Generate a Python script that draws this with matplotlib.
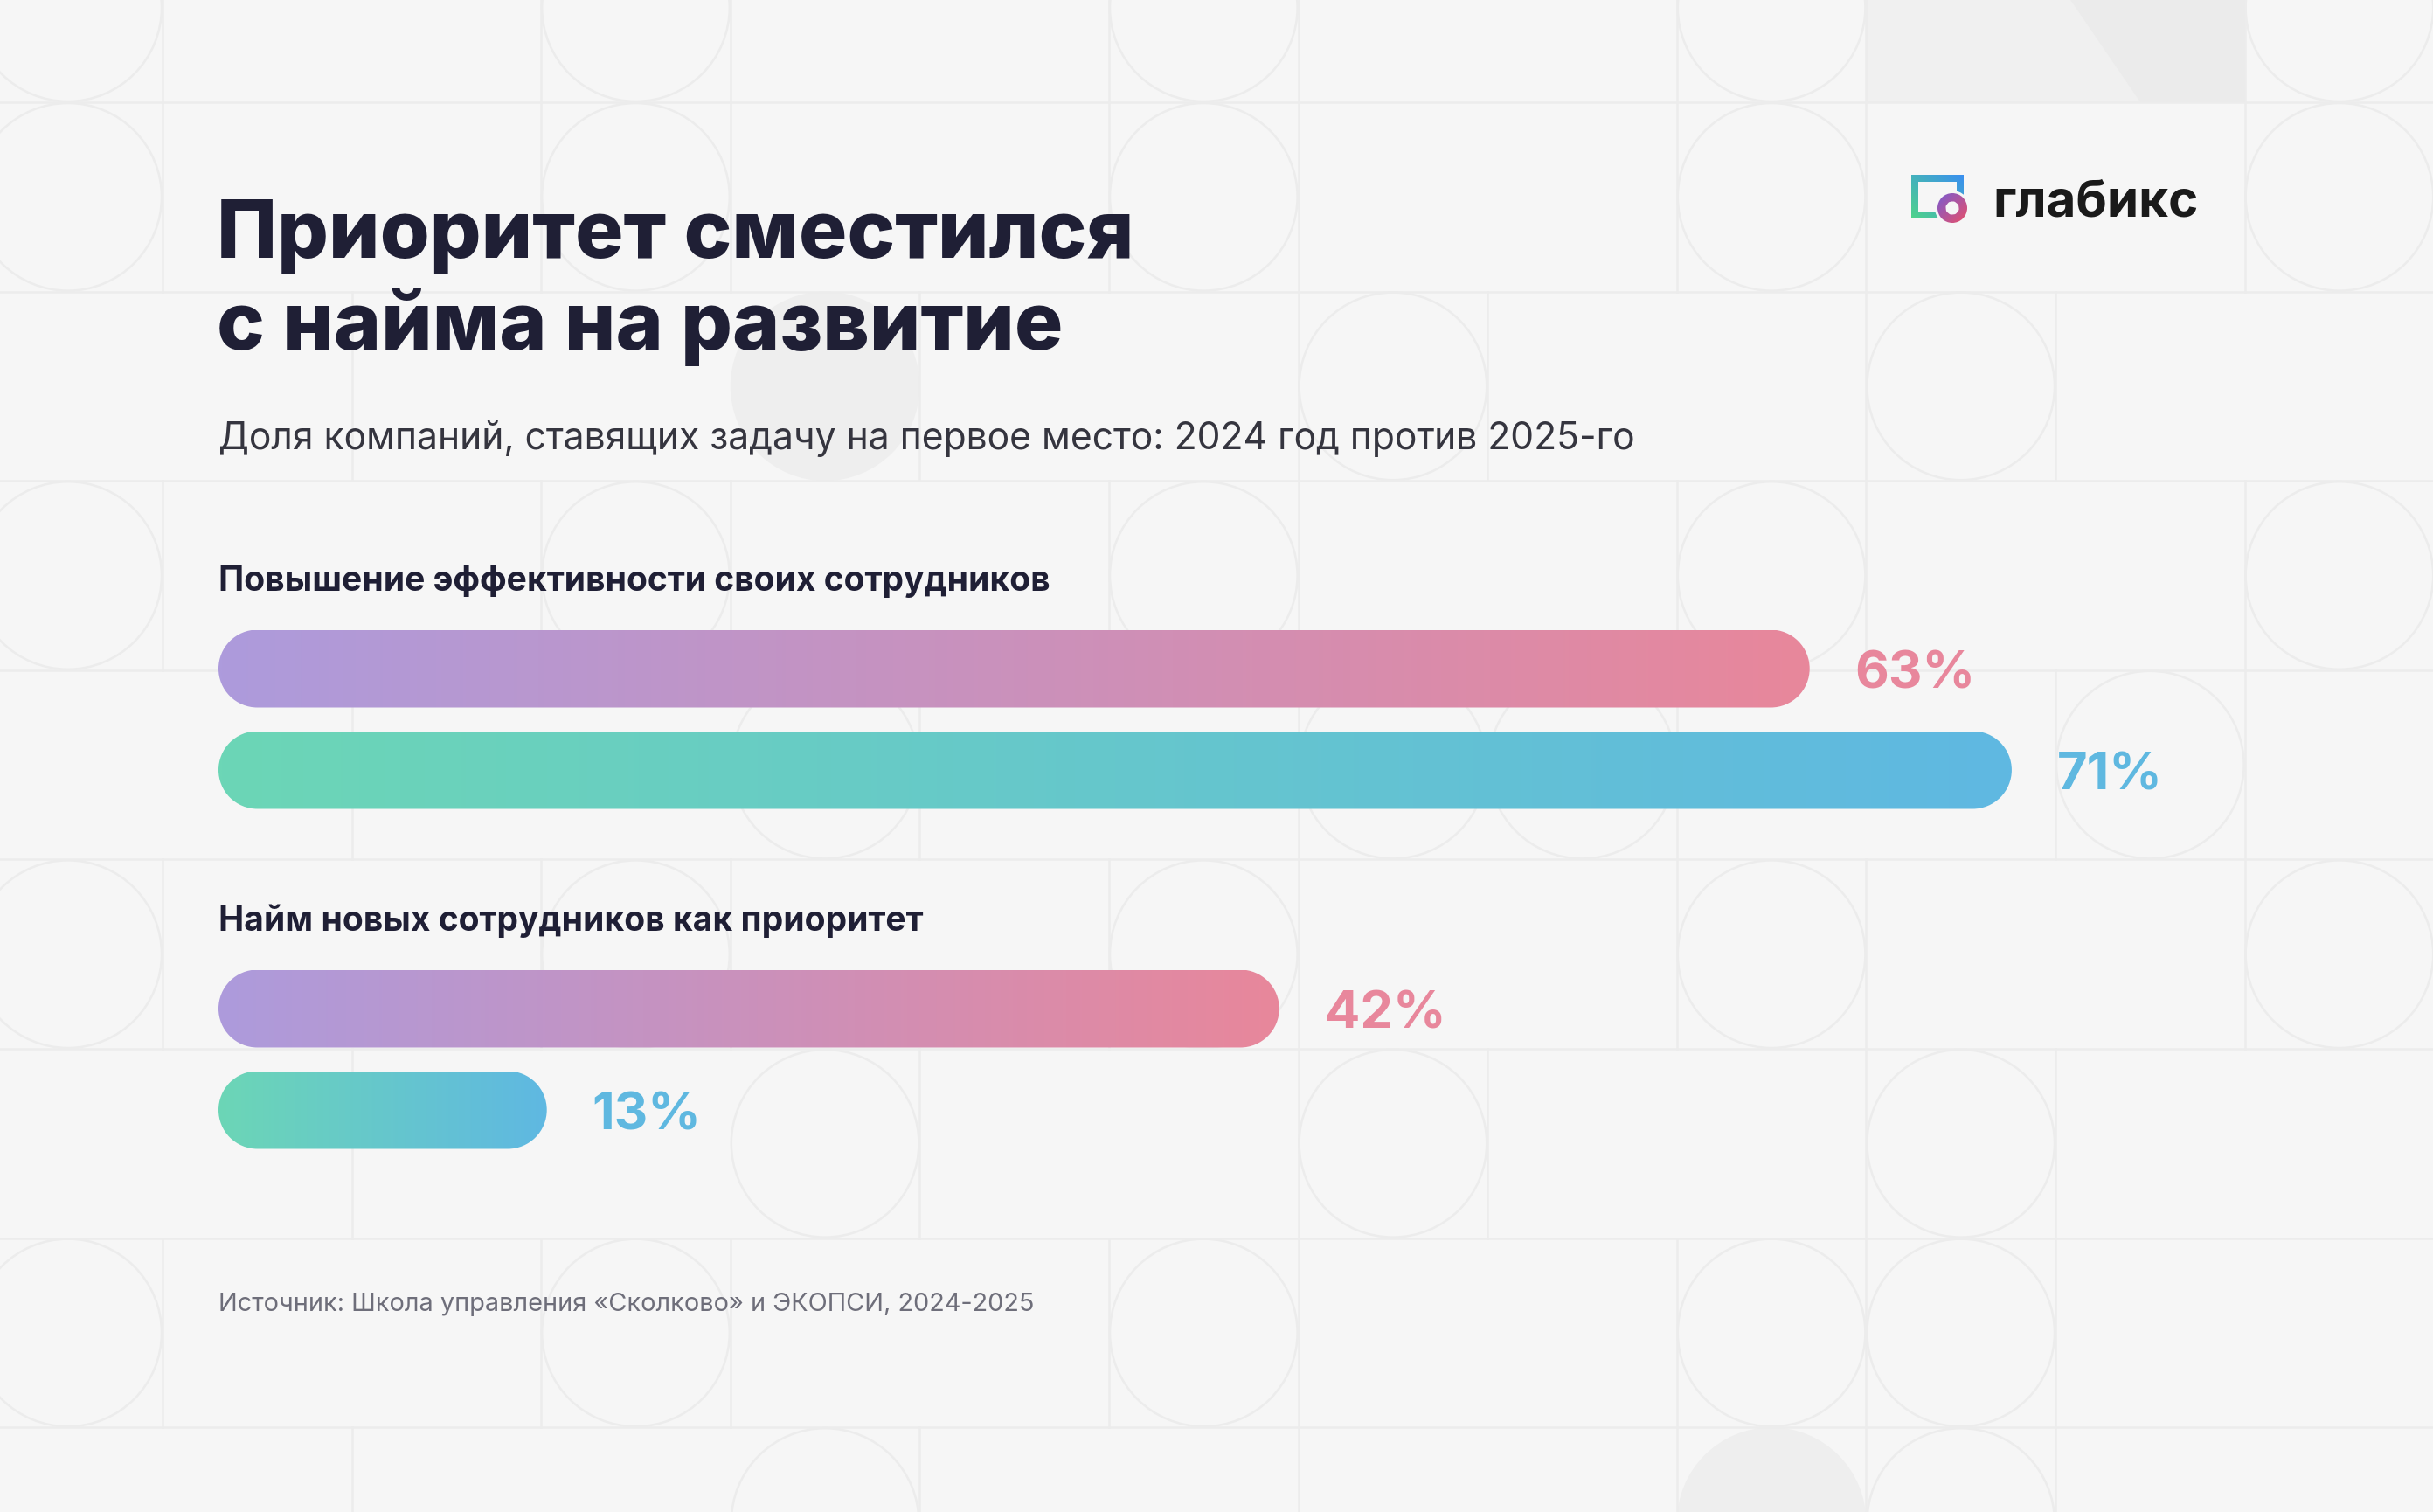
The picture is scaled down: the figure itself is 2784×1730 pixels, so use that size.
import numpy as np
import matplotlib
matplotlib.use("Agg")
import matplotlib.pyplot as plt
from matplotlib.patches import Circle, Polygon, PathPatch
from matplotlib.path import Path
from matplotlib.colors import to_rgb

# data
title_lines = ["Приоритет сместился", "с найма на развитие"]
subtitle = "Доля компаний, ставящих задачу на первое место: 2024 год против 2025-го"
source = "Источник: Школа управления «Сколково» и ЭКОПСИ, 2024-2025"
categories = ["Повышение эффективности своих сотрудников",
              "Найм новых сотрудников как приоритет"]
values_2024 = [63, 42]
values_2025 = [71, 13]

W, H = 2784, 1730
BG = "#F6F6F6"
LINE = "#ECECEC"
FONT = "Inter"
grad_2024 = ("#AD9BDC", "#E8879B")
grad_2025 = ("#6CD6B6", "#5FB8E2")
lab_2024 = "#E8879C"
lab_2025 = "#5FB8E0"

fig = plt.figure(figsize=(W / 100, H / 100), dpi=100)
fig.patch.set_facecolor(BG)

# background layer in pixel coordinates
bg = fig.add_axes([0, 0, 1, 1])
bg.set_xlim(0, W)
bg.set_ylim(H, 0)
bg.axis("off")

step = 216.6
x0, y0 = 186, 117


def bx(k):
    return x0 + k * step


def by(r):
    return y0 + r * step


# grey block top right
bg.add_patch(Polygon([(bx(9), 0), (2369, 0), (2449, by(0)), (bx(9), by(0))],
                     fc="#F0F0F0", ec="none", zorder=0))
bg.add_patch(Polygon([(2369, 0), (bx(11), 0), (bx(11), by(0)), (2449, by(0))],
                     fc="#EBEBEB", ec="none", zorder=0))

# mosaic grid: horizontal lines full, vertical segments per row
for r in range(0, 8):
    bg.axhline(by(r), color=LINE, lw=1.8, zorder=0.2)
vert = {-1: [0, 2, 3, 5, 6, 8, 9, 11],
        0: [0, 2, 3, 5, 6, 8, 9, 11],
        1: [1, 4, 6, 7, 9, 10],
        2: [0, 2, 3, 5, 6, 8, 9, 11],
        3: [1, 4, 6, 8, 10, 11],
        4: [0, 2, 3, 5, 6, 8, 9, 11],
        5: [1, 4, 6, 7, 9, 10],
        6: [0, 2, 3, 5, 6, 8, 9, 10],
        7: [1, 4, 6, 8, 9, 10]}
for r, ks in vert.items():
    for k in ks:
        bg.plot([bx(k), bx(k)], [by(r), by(r + 1)], color=LINE, lw=1.8, zorder=0.2)

circles = {-1: [-1, 2, 5, 8, 11],
           0: [-1, 2, 5, 8, 11],
           1: [6, 9],
           2: [-1, 2, 5, 8, 11],
           3: [3, 6, 7, 10],
           4: [-1, 2, 5, 8, 11],
           5: [3, 6, 9],
           6: [-1, 2, 5, 8, 9],
           7: [3, 9]}
for r, cs in circles.items():
    for c in cs:
        bg.add_patch(Circle((bx(c) + step / 2, by(r) + step / 2), step / 2 - 1,
                            fill=False, ec=LINE, lw=1.8, zorder=0.2))
for c, r in [(3, 1), (8, 7)]:
    bg.add_patch(Circle((bx(c) + step / 2, by(r) + step / 2), step / 2,
                        fc="#EEEEEE", ec="none", zorder=0.1))

# titles
for i, line in enumerate(title_lines):
    bg.text(248, 295 + i * 105, line, fontsize=66.5, fontweight="heavy",
            color="#1F1F35", family=FONT, va="baseline")
bg.text(250, 514, subtitle, fontsize=30.7, color="#35353F", family=FONT, va="baseline")
bg.text(250, 1500, source, fontsize=20.8, color="#6E6E7A", family=FONT, va="baseline")

# logo
bg.text(2280, 247, "глабикс", fontsize=42, fontweight="bold", color="#1A1A1A",
        family=FONT, va="baseline")
gx = np.linspace(0, 1, 64)
GX, GY = np.meshgrid(gx, gx)
t = np.clip((GX + (1 - GY)) / 2, 0, 1)
c_a, c_b = np.array(to_rgb("#4ED38A")), np.array(to_rgb("#3A8FF0"))
sq_img = c_a * (1 - t[..., None]) + c_b * t[..., None]
frame = Path.make_compound_path(
    Path([(2187, 200), (2247, 200), (2247, 250), (2187, 250), (2187, 200)]),
    Path([(2195, 208), (2195, 242), (2239, 242), (2239, 208), (2195, 208)]))
im = bg.imshow(sq_img, extent=[2187, 2247, 250, 200], zorder=2, aspect="auto")
im.set_clip_path(PathPatch(frame, transform=bg.transData))
bg.add_patch(Circle((2234, 238), 20, fc=BG, ec="none", zorder=2.5))
t2 = np.clip((GX + GY) / 2, 0, 1)
c_c, c_d = np.array(to_rgb("#7A5BD0")), np.array(to_rgb("#E8506A"))
ring_img = c_c * (1 - t2[..., None]) + c_d * t2[..., None]
ring_outer = Path.circle((2234, 238), 17)
ring_inner = Path.circle((2234, 238), 7.5)
ring = Path(np.concatenate([ring_outer.vertices, ring_inner.vertices[::-1]]),
            np.concatenate([ring_outer.codes, ring_inner.codes]))
im2 = bg.imshow(ring_img, extent=[2217, 2251, 255, 221], zorder=3, aspect="auto")
im2.set_clip_path(PathPatch(ring, transform=bg.transData))
bg.set_xlim(0, W)
bg.set_ylim(H, 0)

# bars axis: x in percent, y in the same visual unit (1 unit = px_per_pct px)
px_per_pct = 28.9
xmax = 80
ax = fig.add_axes([250 / W, 0, xmax * px_per_pct / W, 1])
ax.patch.set_alpha(0)
ax.axis("off")
ymax = H / px_per_pct

bar_h = 89 / px_per_pct
group_y = [765 / px_per_pct, 1154 / px_per_pct]
pair_gap = 116 / px_per_pct
label_off = 89 / px_per_pct


def pill(v, yc, r):
    right = Path.arc(-90, 90)
    left = Path.arc(90, 270)
    rv = right.vertices * r + [v - r, yc]
    lv = left.vertices * r + [r, yc]
    lc = left.codes.copy()
    lc[0] = Path.LINETO
    verts = np.concatenate([rv, lv, [rv[0]]])
    codes = np.concatenate([right.codes, lc, [Path.CLOSEPOLY]])
    return Path(verts, codes)


def grad_bar(v, yc, cols, txt_col):
    c0, c1 = np.array(to_rgb(cols[0])), np.array(to_rgb(cols[1]))
    s = np.linspace(0, 1, 256)[None, :, None]
    img = c0 * (1 - s) + c1 * s
    patch = PathPatch(pill(v, yc, bar_h / 2), fc="none", ec="none",
                      transform=ax.transData)
    ax.add_patch(patch)
    im = ax.imshow(img, extent=[0, v, yc + bar_h / 2, yc - bar_h / 2],
                   aspect="auto", interpolation="bilinear", zorder=2)
    im.set_clip_path(patch)
    ax.text(v + 52 / px_per_pct, yc + 22 / px_per_pct, f"{v}%", fontsize=43,
            fontweight="bold", color=txt_col, family=FONT, va="baseline", ha="left")


for k, cat in enumerate(categories):
    yc = group_y[k]
    ax.text(0, yc - label_off, cat, fontsize=28.1, fontweight="bold",
            color="#1F1F35", family=FONT, va="baseline")
    grad_bar(values_2024[k], yc, grad_2024, lab_2024)
    grad_bar(values_2025[k], yc + pair_gap, grad_2025, lab_2025)

ax.set_xlim(0, xmax)
ax.set_ylim(ymax, 0)

fig.savefig("out.png", dpi=100, facecolor=BG)
